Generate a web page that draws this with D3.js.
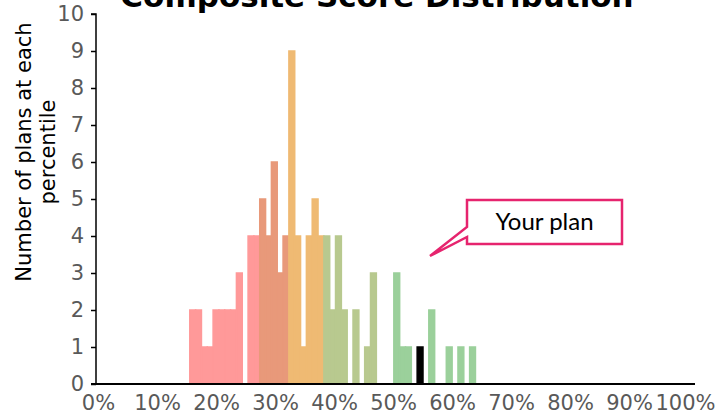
<!DOCTYPE html>
<html>
<head>
<meta charset="utf-8">
<script src="https://cdn.jsdelivr.net/npm/d3@7"></script>
<style>
  html, body { margin: 0; padding: 0; background: #fff; }
  svg { display: block; }
</style>
</head>
<body>
<svg id="chart" width="715" height="417"></svg>
<script>
// Histogram of plan composite scores, one bin per percentile.
const title = "Composite Score Distribution";
const yTitleLines = ["Number of plans at each", "percentile"];
const calloutText = "Your plan";

// Score bands: first percentile of each band and the counts that follow it.
const bandNames = ["lowest", "low", "middle", "high", "highest", "yours"];
const bandColors = ["#FF9999", "#E8997A", "#EFBA73", "#B8C98F", "#9BD09B", "#000000"];
const bandStarts = [16, 28, 33, 39, 51, 55];
const lowestCounts = [2, 2, 1, 1, 2, 2, 2, 2, 3, 0, 4, 4];
const lowCounts = [5, 4, 6, 3, 4];
const middleCounts = [9, 4, 1, 4, 5, 4];
const highCounts = [4, 2, 4, 2, 0, 2, 0, 1, 3];
const highestCounts = [3, 1, 1, 0, 0, 0, 2, 0, 0, 1, 0, 1, 0, 1];
const yourCounts = [1];

const xTickValues = [0, 10, 20, 30, 40, 50, 60, 70, 80, 90, 100];
const yTickValues = [0, 1, 2, 3, 4, 5, 6, 7, 8, 9, 10];

const countsByBand = [lowestCounts, lowCounts, middleCounts, highCounts, highestCounts, yourCounts];

const bins = [];
countsByBand.forEach((counts, b) => {
  counts.forEach((c, k) => {
    bins.push({ band: bandNames[b], color: bandColors[b], pct: bandStarts[b] + k, count: c });
  });
});

const svg = d3.select("#chart");
const font = "'DejaVu Sans', Verdana, sans-serif";

const axisLeft = 96, axisRight = 695, axisTop = 14, axisBottom = 384;

// Percentile bins (band scale) and the label axis (linear)
const xBin = d3.scaleBand().domain(d3.range(0, 103)).range([96.5, 697]).paddingInner(0).paddingOuter(0);
const xPct = d3.scaleLinear().domain([0, 100]).range([98, 688]);
const y = d3.scaleLinear().domain([0, 10]).range([axisBottom, axisTop]);

// Bars
svg.append("g")
  .selectAll("rect")
  .data(bins.filter(d => d.count > 0))
  .join("rect")
  .attr("x", d => xBin(d.pct))
  .attr("width", xBin.bandwidth())
  .attr("y", d => y(d.count))
  .attr("height", d => y(0) - y(d.count))
  .attr("fill", d => d.color)
  .attr("stroke", d => d.color)
  .attr("stroke-width", 1.5);

// Y axis
const yAxis = d3.axisLeft(y).tickValues(yTickValues).tickSize(5).tickPadding(7);
const gy = svg.append("g").attr("transform", `translate(${axisLeft},0)`).call(yAxis);
gy.select(".domain").attr("d", `M-5,${axisTop}H0V${axisBottom}`).attr("stroke", "#000").attr("stroke-width", 1.5);
gy.selectAll(".tick line").attr("stroke", "#000").attr("stroke-width", 1.5);
gy.selectAll(".tick text")
  .attr("fill", "#595959")
  .style("font-family", font)
  .style("font-size", "21px");

// X axis
const xAxis = d3.axisBottom(xPct).tickValues(xTickValues).tickSize(0).tickPadding(11).tickFormat(d => d + "%");
const gx = svg.append("g").attr("transform", `translate(0,${axisBottom})`).call(xAxis);
gx.select(".domain").attr("d", `M${axisLeft - 5},0H${axisRight}`).attr("stroke", "#000").attr("stroke-width", 2);
gx.selectAll(".tick text")
  .attr("fill", "#595959")
  .style("font-family", font)
  .style("font-size", "21px");
// keep the last label inside the drawing
gx.selectAll(".tick text").filter(d => d === 100)
  .attr("text-anchor", "end")
  .attr("x", 715 - xPct(100));

// Y axis title
const yt = svg.append("text")
  .attr("transform", "translate(36,152) rotate(-90)")
  .attr("text-anchor", "middle")
  .style("font-family", font)
  .style("font-size", "21px")
  .attr("fill", "#000");
yt.selectAll("tspan")
  .data(yTitleLines)
  .join("tspan")
  .attr("x", 0)
  .attr("dy", (d, i) => i === 0 ? "-0.25em" : "1.15em")
  .text(d => d);

// Chart title
svg.append("text")
  .attr("x", 377)
  .attr("y", 7)
  .attr("text-anchor", "middle")
  .style("font-family", font)
  .style("font-size", "31px")
  .style("font-weight", "bold")
  .attr("fill", "#000")
  .text(title);

// Callout pointing at the plan's bar
const callout = svg.append("g");
callout.append("path")
  .attr("d", "M467,200 H622 V244 H467 V237 L430,256 L467,227 Z")
  .attr("fill", "#fff")
  .attr("stroke", "#E6246E")
  .attr("stroke-width", 2.5)
  .attr("stroke-linejoin", "miter");
callout.append("text")
  .attr("x", 544.5)
  .attr("y", 230)
  .attr("text-anchor", "middle")
  .style("font-family", "Lato, 'Open Sans', sans-serif")
  .style("font-size", "24px")
  .attr("fill", "#000")
  .text(calloutText);
</script>
</body>
</html>
